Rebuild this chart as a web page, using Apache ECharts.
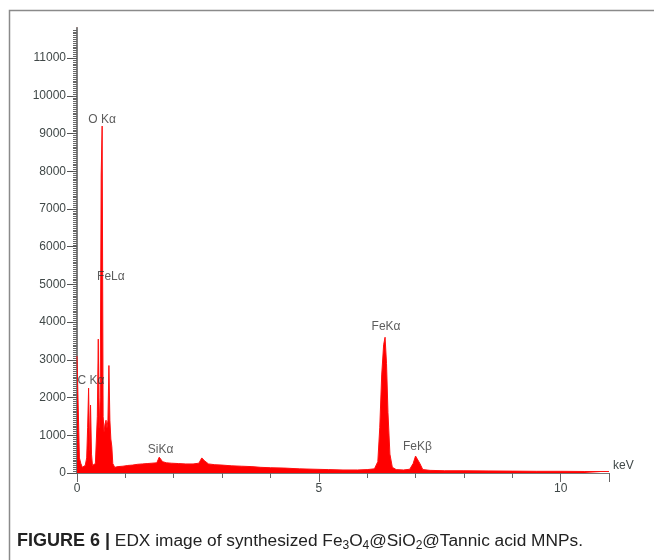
<!DOCTYPE html>
<html>
<head>
<meta charset="utf-8">
<script src="https://cdn.jsdelivr.net/npm/echarts@6/dist/echarts.min.js"></script>
<style>
  html, body { margin: 0; padding: 0; background: #fff; }
  #main { width: 654px; height: 560px; }
</style>
</head>
<body>
<div id="main"></div>
<script>
// EDX spectrum (keV, counts)
var energy = [0.00, 0.03, 0.05, 0.08, 0.11, 0.14, 0.17, 0.20, 0.22, 0.24, 0.26, 0.28, 0.30, 0.32, 0.35, 0.38,
  0.40, 0.42, 0.44, 0.46, 0.48, 0.50, 0.52, 0.54, 0.56, 0.58, 0.60, 0.62, 0.64, 0.66, 0.68, 0.70, 0.72, 0.74,
  0.78, 0.85, 0.95, 1.05, 1.15, 1.25, 1.35, 1.45, 1.55, 1.65, 1.70, 1.73, 1.77, 1.85, 1.95, 2.10, 2.25, 2.40,
  2.52, 2.58, 2.64, 2.72, 2.85, 3.00, 3.20, 3.40, 3.60, 3.80, 4.00, 4.30, 4.60, 4.90, 5.20, 5.50, 5.80, 6.00,
  6.15, 6.22, 6.26, 6.30, 6.34, 6.37, 6.40, 6.43, 6.47, 6.52, 6.60, 6.75, 6.88, 6.95, 7.00, 7.04, 7.09, 7.15,
  7.30, 7.60, 8.00, 8.50, 9.00, 9.50, 10.0, 10.5, 11.0]
var counts = [3100, 3100, 400, 250, 150, 120, 200, 400, 1200, 2250, 600, 1800, 500, 200, 180, 250,
  300, 1500, 3550, 1200, 2000, 7900, 9200, 1500, 1100, 1300, 1400, 1200, 1400, 2850, 1400, 900, 700, 250,
  150, 170, 180, 200, 210, 230, 240, 250, 260, 270, 420, 470, 300, 270, 260, 250, 240, 240,
  260, 400, 320, 240, 220, 210, 190, 180, 170, 150, 140, 130, 110, 100, 90, 80, 80, 90,
  110, 300, 1200, 2600, 3400, 3600, 2900, 1600, 500, 150, 90, 80, 100, 250, 450, 470, 250, 90,
  70, 60, 60, 55, 50, 45, 45, 40, 40]

// peak labels
var peakNames = ['O Kα', 'FeLα', 'C Kα', 'SiKα', 'FeKα', 'FeKβ']
var peakE = [0.52, 0.70, 0.29, 1.73, 6.39, 7.04]
var peakY = [9360, 5200, 2450, 630, 3870, 710]

var yTicks = [0, 1000, 2000, 3000, 4000, 5000, 6000, 7000, 8000, 9000, 10000, 11000]
var xLabels = [0, 5, 10]

var spectrum = energy.map(function (e, i) { return [e, counts[i]] })
var peaks = peakNames.map(function (n, i) { return [peakE[i], peakY[i], n] })

var labelFont = '"Liberation Sans", Arial, sans-serif'

var chart = echarts.init(document.getElementById('main'))
chart.setOption({
  animation: false,
  grid: { left: 77, right: 45, top: 28, bottom: 87 },
  xAxis: [
    {
      type: 'value', min: 0, max: 11, interval: 1,
      splitLine: { show: false },
      axisLine: { lineStyle: { color: '#777', width: 1 } },
      axisTick: { length: 5, lineStyle: { color: '#666' } },
      axisLabel: {
        margin: 10, color: '#404848', fontSize: 12, fontFamily: labelFont,
        formatter: function (v) { return xLabels.indexOf(v) >= 0 ? String(v) : '' }
      }
    },
    {
      type: 'value', min: 0, max: 11, interval: 5, position: 'bottom',
      splitLine: { show: false },
      axisLine: { show: false },
      axisTick: { length: 9, lineStyle: { color: '#666' } },
      axisLabel: { show: false }
    }
  ],
  yAxis: [
    {
      type: 'value', min: 0, max: 11800, interval: 1000,
      splitLine: { show: false },
      axisLine: { show: true, lineStyle: { color: '#c42020', width: 1.5 } },
      axisTick: { length: 10, customValues: yTicks, lineStyle: { color: '#555' } },
      minorTick: { show: true, splitNumber: 20, length: 4, lineStyle: { color: '#666' } },
      axisLabel: {
        customValues: yTicks, margin: 11, color: '#404848', fontSize: 12, fontFamily: labelFont,
        formatter: function (v) { return String(v) }
      }
    },
    {
      type: 'value', min: 0, max: 11800, position: 'right',
      splitLine: { show: false },
      axisLine: { show: true, lineStyle: { color: '#808080', width: 2 } },
      axisTick: { show: false },
      axisLabel: { show: false }
    }
  ],
  series: [
    {
      type: 'line',
      data: spectrum,
      showSymbol: false,
      symbol: 'none',
      lineStyle: { color: '#ff1010', width: 1 },
      areaStyle: { color: '#ff0000', opacity: 1 },
      z: 3
    },
    {
      type: 'scatter',
      data: peaks,
      symbolSize: 0,
      label: {
        show: true, position: 'inside', color: '#333', fontSize: 12,
        fontFamily: labelFont,
        formatter: function (p) { return p.data[2] }
      },
      z: 4
    }
  ],
  graphic: [
    {
      type: 'polyline',
      shape: { points: [[9.5, 560], [9.5, 10.5], [654, 10.5]] },
      style: { stroke: '#8a8a8a', lineWidth: 1.5, fill: null }
    },
    {
      type: 'text', left: 613, top: 460,
      style: { text: 'keV', fill: '#404848', fontSize: 12, fontFamily: labelFont }
    },
    {
      type: 'text', left: 17, top: 530,
      style: {
        text: '{b|FIGURE 6 |} EDX image of synthesized Fe{s|3}O{s|4}@SiO{s|2}@Tannic acid MNPs.',
        fill: '#222', fontSize: 17.3, fontFamily: labelFont,
        lineHeight: 22,
        rich: {
          b: { fontWeight: 'bold', fontSize: 18, fill: '#222', fontFamily: labelFont, lineHeight: 22 },
          s: { fontSize: 12, verticalAlign: 'bottom', lineHeight: 14, fill: '#222' }
        }
      }
    }
  ]
})
</script>
</body>
</html>
